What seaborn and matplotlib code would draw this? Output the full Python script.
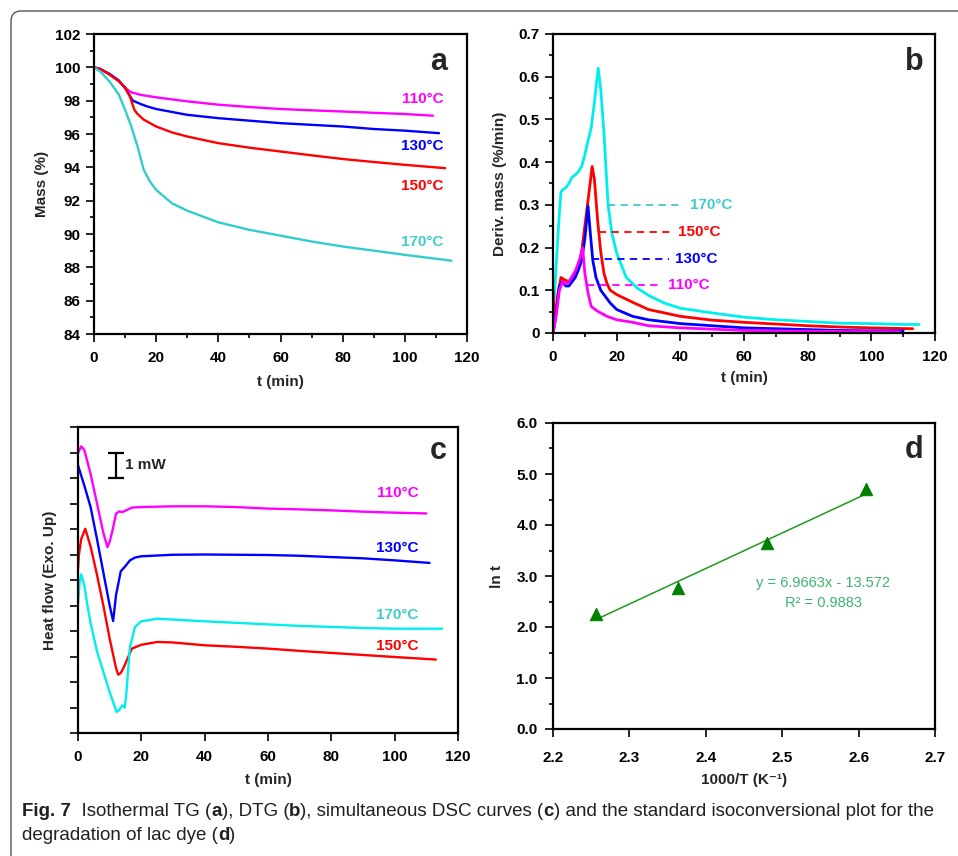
import numpy as np
import pandas as pd
import matplotlib
matplotlib.use("Agg")
import matplotlib.pyplot as plt
import seaborn as sns
from matplotlib.path import Path
from matplotlib.patches import PathPatch
from matplotlib.ticker import MultipleLocator, FuncFormatter, NullFormatter

# ---------------- data ----------------
temps = ["110°C", "130°C", "150°C", "170°C"]

# (a) TG
tg_t_110 = [0, 2, 5, 8, 10, 12, 15, 20, 30, 40, 50, 60, 70, 80, 90, 100, 109]
tg_110 = [100, 99.9, 99.6, 99.2, 98.76, 98.5, 98.35, 98.2, 97.96, 97.76, 97.62, 97.5, 97.42, 97.35, 97.27, 97.2, 97.1]
tg_t_130 = [0, 2, 5, 8, 10, 11, 12.5, 15, 17, 20, 30, 40, 50, 60, 70, 80, 90, 100, 111]
tg_130 = [100, 99.9, 99.6, 99.2, 98.76, 98.45, 98.0, 97.8, 97.66, 97.5, 97.15, 96.95, 96.8, 96.65, 96.55, 96.45, 96.3, 96.2, 96.05]
tg_t_150 = [0, 2, 5, 8, 10, 11.5, 13, 14, 16, 20, 25, 30, 40, 50, 60, 70, 80, 90, 100, 113]
tg_150 = [100, 99.9, 99.56, 99.16, 98.8, 98.26, 97.45, 97.2, 96.86, 96.45, 96.1, 95.85, 95.45, 95.18, 94.95, 94.72, 94.5, 94.32, 94.15, 93.95]
tg_t_170 = [0, 2, 5, 8, 10, 12, 14, 16, 18, 20, 25, 30, 40, 50, 60, 70, 80, 90, 100, 115]
tg_170 = [100, 99.75, 99.15, 98.36, 97.45, 96.45, 95.25, 93.85, 93.15, 92.65, 91.85, 91.4, 90.7, 90.25, 89.9, 89.55, 89.25, 89.0, 88.75, 88.4]
tg_label_y = [98.1, 95.25, 92.9, 89.55]

# (b) DTG
dtg_t_110 = [0, 1, 2, 3, 4, 5, 7, 8.5, 9.3, 10, 11, 12, 14, 17, 20, 25, 30, 40, 50, 60, 80, 100, 109]
dtg_110 = [0.0, 0.04, 0.1, 0.12, 0.115, 0.12, 0.145, 0.175, 0.2, 0.14, 0.094, 0.062, 0.051, 0.039, 0.031, 0.025, 0.017, 0.012, 0.009, 0.006, 0.004, 0.003, 0.003]
dtg_t_130 = [0, 0.5, 1, 2, 3, 4, 5, 6, 7, 8, 9, 10, 11, 11.7, 12.5, 13.5, 15, 18, 20, 25, 30, 40, 50, 60, 70, 80, 90, 100, 110]
dtg_130 = [0.0, 0.02, 0.05, 0.11, 0.12, 0.11, 0.11, 0.12, 0.13, 0.148, 0.17, 0.22, 0.297, 0.236, 0.17, 0.13, 0.10, 0.07, 0.055, 0.039, 0.031, 0.022, 0.017, 0.012, 0.01, 0.008, 0.006, 0.005, 0.005]
dtg_t_150 = [0, 0.5, 1, 1.5, 2.5, 3.5, 5, 6, 7, 8, 9, 10, 11, 12.3, 13, 14, 15, 16, 17, 18, 20, 25, 30, 40, 50, 60, 70, 80, 90, 100, 113]
dtg_150 = [0.1, 0.03, 0.05, 0.09, 0.13, 0.125, 0.12, 0.13, 0.14, 0.155, 0.19, 0.25, 0.31, 0.39, 0.36, 0.265, 0.19, 0.14, 0.115, 0.10, 0.09, 0.072, 0.055, 0.039, 0.03, 0.025, 0.021, 0.017, 0.014, 0.012, 0.01]
dtg_t_170 = [0, 0.4, 1, 2, 2.5, 3, 4, 5, 6, 7, 8, 9, 10, 11, 12, 13, 14.2, 15, 16, 17.3, 18.5, 20, 23, 26.5, 30, 35, 40, 50, 60, 70, 80, 90, 100, 110, 115]
dtg_170 = [0.0, 0.08, 0.16, 0.28, 0.33, 0.335, 0.34, 0.35, 0.365, 0.37, 0.378, 0.39, 0.417, 0.45, 0.48, 0.54, 0.62, 0.57, 0.47, 0.30, 0.234, 0.187, 0.13, 0.105, 0.088, 0.07, 0.058, 0.047, 0.037, 0.031, 0.027, 0.023, 0.022, 0.02, 0.02]
dtg_label_y = [0.112, 0.173, 0.236, 0.30]
dtg_dash_start = [10.7, 12.2, 14.6, 17.3]
dtg_dash_end = [34.7, 36.3, 37.9, 40.5]
dtg_text_x = [36.0, 38.4, 39.2, 43.0]

# (c) DSC heat flow (arbitrary units, 1 tick = 1 mW)
hf_t_110 = [0, 1, 2, 4, 6, 8, 9.3, 10, 11, 12, 13, 14, 17, 20, 30, 40, 50, 60, 70, 80, 90, 100, 110]
hf_110 = [10.98, 11.24, 11.1, 10.15, 9.0, 7.85, 7.29, 7.5, 8.0, 8.6, 8.69, 8.66, 8.84, 8.86, 8.89, 8.89, 8.86, 8.8, 8.77, 8.73, 8.68, 8.64, 8.61]
hf_t_130 = [0, 1, 2, 4, 6, 8, 10, 11.1, 12, 13.5, 15, 16.4, 18, 20, 30, 40, 50, 60, 70, 80, 90, 100, 111]
hf_130 = [10.5, 10.1, 9.7, 8.85, 7.6, 6.3, 5.0, 4.39, 5.4, 6.34, 6.55, 6.77, 6.88, 6.93, 6.99, 7.0, 6.99, 6.98, 6.95, 6.9, 6.85, 6.77, 6.67]
hf_t_150 = [0, 0.3, 1, 2.3, 4, 6, 8, 10, 12, 12.7, 13.5, 14.5, 17, 20, 25, 30, 40, 50, 60, 70, 80, 90, 100, 113]
hf_150 = [6.44, 7.0, 7.6, 8.01, 7.3, 6.2, 5.0, 3.7, 2.55, 2.29, 2.35, 2.59, 3.31, 3.46, 3.57, 3.55, 3.44, 3.38, 3.31, 3.22, 3.14, 3.06, 2.98, 2.88]
hf_t_170 = [0, 0.5, 1, 2, 2.7, 4, 6, 8, 10, 12.2, 13, 14, 14.8, 15.3, 16.4, 18, 20, 25, 30, 40, 50, 60, 70, 80, 90, 100, 115]
hf_170 = [5.07, 5.9, 6.22, 5.8, 5.2, 4.3, 3.2, 2.4, 1.6, 0.82, 0.9, 1.08, 1.0, 1.6, 3.37, 4.16, 4.38, 4.48, 4.45, 4.38, 4.32, 4.26, 4.2, 4.16, 4.12, 4.09, 4.09]
hf_label_y = [9.41, 7.25, 3.41, 4.63]
scalebar_t = 12.0
scalebar_y = 10.5
scalebar_half = 0.5

# (d) isoconversional plot
inv_T = [2.2566, 2.3632, 2.4805, 2.6099]
ln_t = [2.25, 2.76, 3.64, 4.70]
fit_slope = 6.9663
fit_intercept = -13.572

# ---------------- style ----------------
sns.set_theme(style="white")
plt.rcParams["font.family"] = ["Liberation Sans", "DejaVu Sans"]
plt.rcParams["font.weight"] = "bold"
plt.rcParams["axes.labelweight"] = "bold"

col_line = {"110°C": "#ff00ff", "130°C": "#0000ff", "150°C": "#ff0000", "170°C": "#00eeee"}
col_text = {"110°C": "#ff00ff", "130°C": "#0000ff", "150°C": "#ff0000", "170°C": "#40cccc"}

W, H = 958, 856
fig = plt.figure(figsize=(W / 100, H / 100), dpi=100)
fig.patch.set_facecolor("white")

TICK_FS = 11
LAB_FS = 11


def px_axes(l, r, t, b):
    return fig.add_axes([l / W, 1 - b / H, (r - l) / W, (b - t) / H])


axA = px_axes(94, 467, 34, 334)
axB = px_axes(553, 935, 34, 333)
axC = px_axes(78, 458, 427, 733)
axD = px_axes(553, 935, 423, 729)


def style_axes(ax, xpad=6.3, ypad=3.5):
    ax.set_facecolor("white")
    for s in ax.spines.values():
        s.set_color("black")
        s.set_linewidth(1.6)
        s.set_visible(True)
    ax.tick_params(axis="both", which="major", direction="out", length=6, width=1.2,
                   color="black", labelsize=TICK_FS, labelcolor="black",
                   left=True, bottom=True)
    ax.tick_params(axis="x", which="major", pad=xpad)
    ax.tick_params(axis="y", which="major", pad=ypad)
    ax.tick_params(axis="both", which="minor", direction="out", length=3, width=1.2,
                   color="black", left=True, bottom=True)
    ax.grid(False)


def series_df(ts, ys, name):
    return pd.DataFrame({"t": ts, "v": ys, "T": name})


# ---------- panel a ----------
dfA = pd.concat([series_df(tg_t_110, tg_110, "110°C"), series_df(tg_t_130, tg_130, "130°C"),
                 series_df(tg_t_150, tg_150, "150°C"), series_df(tg_t_170, tg_170, "170°C")])
colA = dict(col_line)
colA["170°C"] = "#33cccc"
sns.lineplot(data=dfA, x="t", y="v", hue="T", palette=colA, estimator=None, sort=False,
             linewidth=1.7, legend=False, ax=axA)
style_axes(axA)
axA.set_xlim(0, 120)
axA.set_ylim(84, 102)
axA.xaxis.set_major_locator(MultipleLocator(20))
axA.xaxis.set_minor_locator(MultipleLocator(10))
axA.yaxis.set_major_locator(MultipleLocator(2))
axA.yaxis.set_minor_locator(MultipleLocator(1))
axA.set_xlabel("t (min)", fontsize=LAB_FS)
axA.set_ylabel("Mass (%)", fontsize=LAB_FS)
for name, yy in zip(temps, tg_label_y):
    axA.text(112.5, yy, name, color=col_text[name], fontsize=11, fontweight="bold",
             ha="right", va="center")
axA.text(0.946, 0.88, "a", transform=axA.transAxes, fontsize=22, fontweight="bold",
         ha="right", va="baseline")

# ---------- panel b ----------
dfB = pd.concat([series_df(dtg_t_110, dtg_110, "110°C"), series_df(dtg_t_130, dtg_130, "130°C"),
                 series_df(dtg_t_150, dtg_150, "150°C"), series_df(dtg_t_170, dtg_170, "170°C")])
for name in ["170°C", "150°C", "130°C", "110°C"]:
    sub = dfB[dfB["T"] == name]
    sns.lineplot(data=sub, x="t", y="v", color=col_line[name], estimator=None, sort=False,
                 linewidth=2.0, legend=False, ax=axB)
style_axes(axB)
axB.set_xlim(0, 120)
axB.set_ylim(0, 0.7)
axB.xaxis.set_major_locator(MultipleLocator(20))
axB.xaxis.set_minor_locator(MultipleLocator(10))
axB.yaxis.set_major_locator(MultipleLocator(0.1))
axB.yaxis.set_minor_locator(MultipleLocator(0.05))
axB.yaxis.set_major_formatter(FuncFormatter(lambda v, p: "0" if abs(v) < 1e-9 else f"{v:.1f}"))
axB.set_xlabel("t (min)", fontsize=LAB_FS)
axB.set_ylabel("Deriv. mass (%/min)", fontsize=LAB_FS)
for name, yy, x0, x1, xt in zip(temps, dtg_label_y, dtg_dash_start, dtg_dash_end, dtg_text_x):
    axB.hlines(yy, x0, x1, colors=col_line[name] if name != "170°C" else "#40cccc",
               linestyles=(0, (4, 3)), linewidth=1.3)
    axB.text(xt, yy, name, color=col_text[name], fontsize=11, fontweight="bold",
             ha="left", va="center")
axB.text(0.969, 0.88, "b", transform=axB.transAxes, fontsize=22, fontweight="bold",
         ha="right", va="baseline")

# ---------- panel c ----------
dfC = pd.concat([series_df(hf_t_110, hf_110, "110°C"), series_df(hf_t_130, hf_130, "130°C"),
                 series_df(hf_t_150, hf_150, "150°C"), series_df(hf_t_170, hf_170, "170°C")])
sns.lineplot(data=dfC, x="t", y="v", hue="T", palette=col_line, estimator=None, sort=False,
             linewidth=1.7, legend=False, ax=axC)
style_axes(axC)
axC.set_xlim(0, 120)
axC.set_ylim(0, 12)
axC.xaxis.set_major_locator(MultipleLocator(20))
axC.yaxis.set_major_locator(MultipleLocator(1))
axC.yaxis.set_major_formatter(NullFormatter())
axC.set_xlabel("t (min)", fontsize=LAB_FS)
axC.set_ylabel("Heat flow (Exo. Up)", fontsize=LAB_FS)
for name, yy in zip(temps, hf_label_y):
    axC.text(107.5, yy, name, color=col_text[name], fontsize=11, fontweight="bold",
             ha="right", va="center")
axC.errorbar([scalebar_t], [scalebar_y], yerr=[scalebar_half], color="black", capsize=6,
             elinewidth=1.6, capthick=1.6, fmt="none")
axC.text(scalebar_t + 2.8, scalebar_y, "1 mW", fontsize=11, fontweight="bold", ha="left", va="center")
axC.text(0.971, 0.895, "c", transform=axC.transAxes, fontsize=22, fontweight="bold",
         ha="right", va="baseline")

# ---------- panel d ----------
dfD = pd.DataFrame({"x": inv_T, "y": ln_t})
fit_x = [min(inv_T), max(inv_T)]
fit_df = pd.DataFrame({"x": fit_x, "y": [fit_slope * v + fit_intercept for v in fit_x]})
sns.lineplot(data=fit_df, x="x", y="y", color="#1f9a1f", linewidth=1.1, ax=axD)
sns.scatterplot(data=dfD, x="x", y="y", marker="^", s=80, color="#008000", edgecolor="#008000",
                ax=axD, zorder=3)
style_axes(axD, xpad=9.5, ypad=5.0)
axD.set_xlim(2.2, 2.7)
axD.set_ylim(0, 6)
axD.xaxis.set_major_locator(MultipleLocator(0.1))
axD.yaxis.set_major_locator(MultipleLocator(1.0))
axD.yaxis.set_minor_locator(MultipleLocator(0.5))
axD.xaxis.set_major_formatter(FuncFormatter(lambda v, p: f"{v:.1f}"))
axD.yaxis.set_major_formatter(FuncFormatter(lambda v, p: f"{v:.1f}"))
axD.set_xlabel("1000/T (K⁻¹)", fontsize=LAB_FS)
axD.set_ylabel("ln t", fontsize=LAB_FS)
axD.text(2.554, 2.86, f"y = {fit_slope:.4f}x - {abs(fit_intercept):.3f}", color="#3cb371",
         fontsize=10.5, fontweight="normal", ha="center", va="center")
axD.text(2.554, 2.48, "R² = 0.9883", color="#3cb371", fontsize=10.5, fontweight="normal",
         ha="center", va="center")
axD.text(0.969, 0.886, "d", transform=axD.transAxes, fontsize=22, fontweight="bold",
         ha="right", va="baseline")

# axis label positions
for ax, xl, yl, l, r, t, b in [(axA, 382, 42, 94, 467, 34, 334), (axB, 378, 500, 553, 935, 34, 333),
                               (axC, 780, 50, 78, 458, 427, 733), (axD, 780, 497, 553, 935, 423, 729)]:
    ax.xaxis.set_label_coords(0.5, (b - xl) / (b - t))
    ax.xaxis.label.set_va("center")
    ax.yaxis.set_label_coords((yl - l) / (r - l), 0.5)
    ax.yaxis.label.set_va("center")

# ---------- frame ----------
def fxy(x, y):
    return (x / W, 1 - y / H)

verts = [fxy(11, 900), fxy(11, 21), fxy(11, 11), fxy(21, 11), fxy(1000, 11)]
codes = [Path.MOVETO, Path.LINETO, Path.CURVE3, Path.CURVE3, Path.LINETO]
fig.add_artist(PathPatch(Path(verts, codes), fill=False, edgecolor="#555555", linewidth=1.0,
                         transform=fig.transFigure))

# ---------- caption ----------
cap_lines = [
    [("Fig. 7", True), ("  Isothermal TG (", False), ("a", True), ("), DTG (", False), ("b", True),
     ("), simultaneous DSC curves (", False), ("c", True),
     (") and the standard isoconversional plot for the", False)],
    [("degradation of lac dye (", False), ("d", True), (")", False)],
]
cap_y = [812, 835]
cap_size = 13.5
fig.canvas.draw()
renderer = fig.canvas.get_renderer()
for segs, yy in zip(cap_lines, cap_y):
    x = 22.0
    for s, bold in segs:
        tx = fig.text(x / W, 1 - yy / H, s, fontsize=cap_size, fontweight="bold" if bold else "normal",
                      color="#231f20", ha="left", va="center")
        bb = tx.get_window_extent(renderer=renderer)
        x += bb.width

fig.savefig("out.png", dpi=100, facecolor="white")
